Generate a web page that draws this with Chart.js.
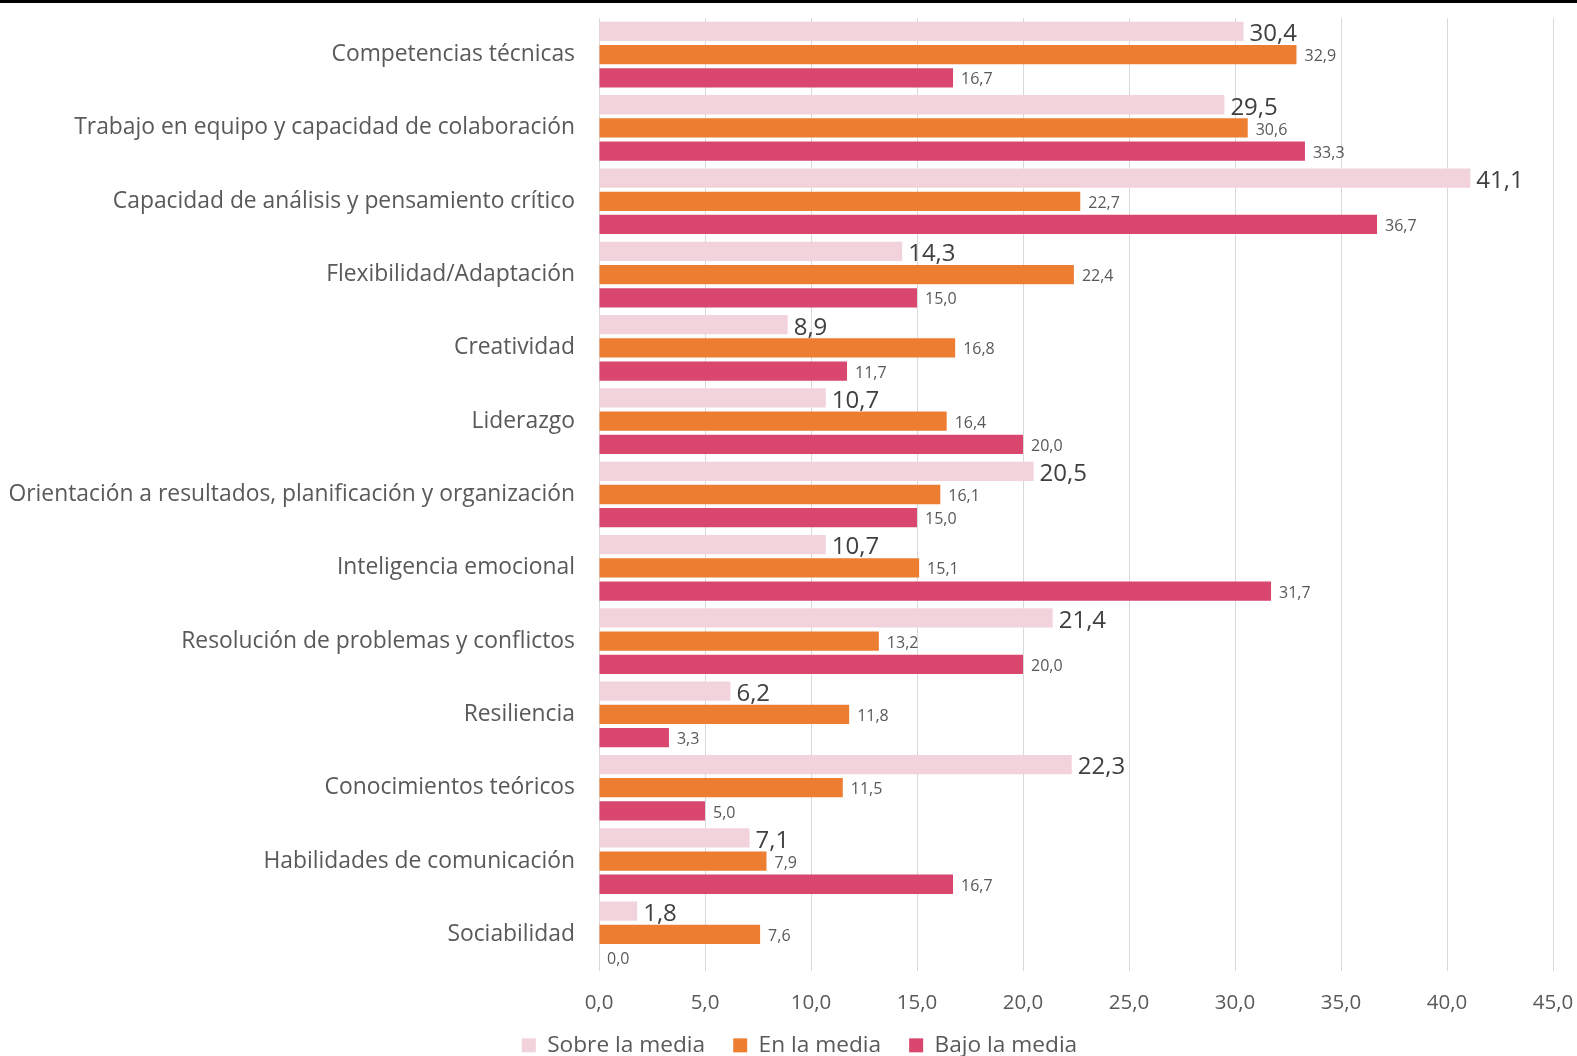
<!DOCTYPE html>
<html>
<head>
<meta charset="utf-8">
<script src="https://cdn.jsdelivr.net/npm/chart.js@4/dist/chart.umd.min.js"></script>
<style>
    html, body { margin: 0; padding: 0; background: #fff; }
    .top-band { position: absolute; left: 0; top: 0; width: 1577px; height: 3px; background: #000; }
    .wrap { position: relative; width: 1577px; height: 1056px; }
</style>
</head>
<body>
<div class="wrap">
    <canvas id="skillsChart" width="1577" height="1056"></canvas>
    <div class="top-band"></div>
</div>
<script>
// Data
const categories = [
    'Competencias técnicas',
    'Trabajo en equipo y capacidad de colaboración',
    'Capacidad de análisis y pensamiento crítico',
    'Flexibilidad/Adaptación',
    'Creatividad',
    'Liderazgo',
    'Orientación a resultados, planificación y organización',
    'Inteligencia emocional',
    'Resolución de problemas y conflictos',
    'Resiliencia',
    'Conocimientos teóricos',
    'Habilidades de comunicación',
    'Sociabilidad'
];
const sobreMedia = [30.4, 29.5, 41.1, 14.3, 8.9, 10.7, 20.5, 10.7, 21.4, 6.2, 22.3, 7.1, 1.8];
const enMedia    = [32.9, 30.6, 22.7, 22.4, 16.8, 16.4, 16.1, 15.1, 13.2, 11.8, 11.5, 7.9, 7.6];
const bajoMedia  = [16.7, 33.3, 36.7, 15.0, 11.7, 20.0, 15.0, 31.7, 20.0, 3.3, 5.0, 16.7, 0.0];
const seriesNames = ['Sobre la media', 'En la media', 'Bajo la media'];
const xTicks = [0, 5, 10, 15, 20, 25, 30, 35, 40, 45];

const FONT = '"Open Sans", "Noto Sans", sans-serif';
const fmt = v => v.toFixed(1).replace('.', ',');

// Value labels next to each bar
const valueLabels = {
    id: 'valueLabels',
    afterDatasetsDraw(chart) {
        const ctx = chart.ctx;
        ctx.save();
        ctx.textBaseline = 'middle';
        ctx.textAlign = 'left';
        chart.data.datasets.forEach((ds, di) => {
            const meta = chart.getDatasetMeta(di);
            meta.data.forEach((bar, i) => {
                if (di === 0) {
                    ctx.font = '24px ' + FONT;
                    ctx.fillStyle = '#404040';
                    ctx.fillText(fmt(ds.data[i]), bar.x + 6, bar.y + 3);
                } else {
                    ctx.font = '16px ' + FONT;
                    ctx.fillStyle = '#595959';
                    ctx.fillText(fmt(ds.data[i]), bar.x + 8, bar.y + 2);
                }
            });
        });
        ctx.restore();
    }
};

// Legend: fixed height, then nudged into place under the axis
const legendPlace = {
    id: 'legendPlace',
    beforeInit(chart) {
        const fit = chart.legend.fit;
        chart.legend.fit = function() {
            fit.call(this);
            this.height = 40;
        };
    },
    afterLayout(chart) {
        const lg = chart.legend;
        lg.top = 1006;
        lg.bottom = 1056;
        lg.height = 50;
        lg.left += 23;
        lg.right += 23;
    }
};

new Chart(document.getElementById('skillsChart'), {
    type: 'bar',
    data: {
        labels: categories,
        datasets: [
            { label: seriesNames[0], data: sobreMedia, backgroundColor: '#f3d3db' },
            { label: seriesNames[1], data: enMedia, backgroundColor: '#ed7d31' },
            { label: seriesNames[2], data: bajoMedia, backgroundColor: '#d9466e' }
        ]
    },
    options: {
        indexAxis: 'y',
        responsive: false,
        animation: false,
        categoryPercentage: 0.95,
        barPercentage: 0.83,
        layout: { padding: { top: 18, right: 24, bottom: 0, left: 0 } },
        scales: {
            x: {
                min: 0,
                max: 45,
                afterBuildTicks: s => { s.ticks = xTicks.map(v => ({ value: v })); },
                afterFit: s => {
                    s.height = 45;
                    s.paddingLeft = 0;
                    s.paddingRight = 0;
                },
                grid: { color: '#d9d9d9', drawTicks: false },
                border: { display: false },
                ticks: {
                    padding: 20,
                    color: '#595959',
                    font: { family: FONT, size: 20.5 },
                    callback: v => fmt(v)
                }
            },
            y: {
                grid: { display: false },
                border: { display: false },
                afterFit: s => {
                    s.width = 599;
                    s.paddingTop = 0;
                    s.paddingBottom = 0;
                },
                ticks: {
                    padding: 16,
                    color: '#595959',
                    font: { family: FONT, size: 22.85 }
                }
            }
        },
        plugins: {
            legend: {
                position: 'bottom',
                labels: {
                    boxWidth: 14,
                    boxHeight: 14,
                    padding: 28,
                    color: '#595959',
                    font: { family: FONT, size: 22.7 }
                }
            },
            tooltip: { enabled: false }
        }
    },
    plugins: [valueLabels, legendPlace]
});
</script>
</body>
</html>
